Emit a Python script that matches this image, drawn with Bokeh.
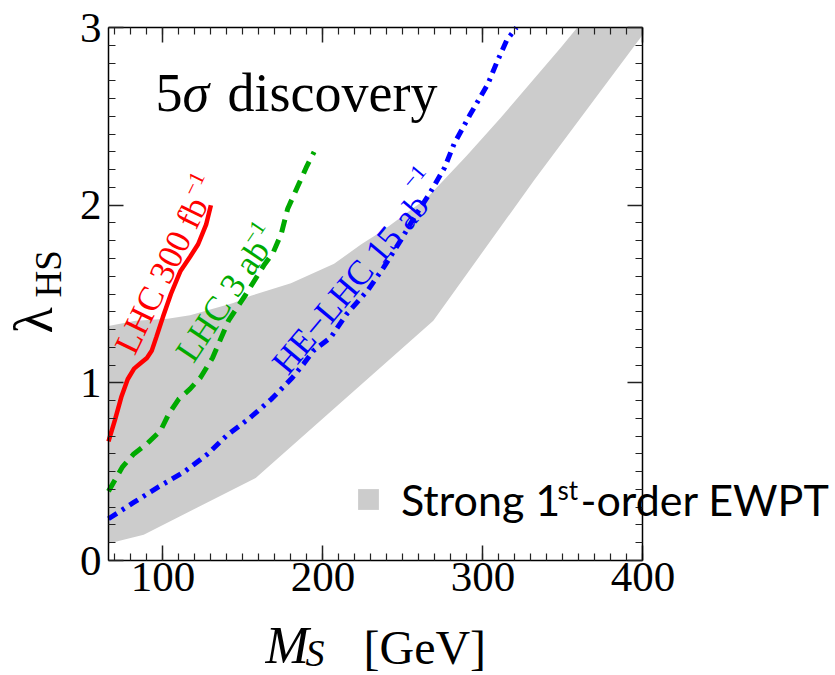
from bokeh.plotting import figure
from bokeh.models import Label, FixedTicker, LinearAxis, Range1d, Legend, LegendItem
from bokeh.embed import file_html
from bokeh.resources import INLINE

# ---- data ----
band_upper_x = [66, 83, 103, 117, 144, 155, 180, 207, 224, 238, 265, 290, 311, 330, 349, 359, 400]
band_upper_y = [1.32, 1.35, 1.36, 1.38, 1.45, 1.49, 1.56, 1.67, 1.78, 1.86, 2.04, 2.28, 2.49, 2.69, 2.89, 3.00, 3.00]
band_lower_x = [66, 88, 158, 269, 332, 400]
band_lower_y = [0.095, 0.145, 0.465, 1.35, 2.14, 2.96]

lhc300_x = [66, 70, 74, 78, 82, 86, 90, 93, 96, 100, 105, 111, 117, 122, 127, 130]
lhc300_y = [0.67, 0.79, 0.92, 1.02, 1.08, 1.11, 1.14, 1.18, 1.26, 1.37, 1.50, 1.63, 1.71, 1.78, 1.89, 2.00]

lhc3_x = [66, 74.6, 81.8, 90, 98.5, 103.7, 110, 117, 123.5, 131, 141, 152, 163, 169, 174, 178, 185, 190, 194.5]
lhc3_y = [0.39, 0.525, 0.60, 0.657, 0.73, 0.826, 0.91, 0.966, 1.03, 1.14, 1.35, 1.50, 1.66, 1.735, 1.84, 1.98, 2.12, 2.22, 2.30]

helhc_x = [66, 82, 97.5, 113, 128, 140, 154, 168, 181, 188, 194, 205, 215, 228, 238, 248.5, 257, 267, 276, 282, 292, 303, 309, 315, 321]
helhc_y = [0.235, 0.328, 0.416, 0.497, 0.60, 0.704, 0.80, 0.91, 1.03, 1.107, 1.18, 1.257, 1.389, 1.52, 1.65, 1.80, 1.93, 2.07, 2.21, 2.345, 2.51, 2.68, 2.81, 2.93, 3.0]

x_major = [100, 200, 300, 400]
y_major = [0, 1, 2, 3]
x_min, x_max = 66, 400
y_min, y_max = 0, 3

RED = "#ff0000"
GREEN = "#00aa00"
BLUE = "#0000ff"
BAND = "#cccccc"
SERIF = "Liberation Serif"

# ---- geometry: the frame fills the canvas; the plot box is drawn by fixed axes ----
W, H = 835, 675
BOX_L, BOX_T, BOX_B = 108, 27, 560          # plot-box edges in canvas pixels
PX_X = 1.6                                  # pixels per GeV
PX_Y = (BOX_B - BOX_T) / (y_max - y_min)    # pixels per unit of lambda
X0 = x_min - BOX_L / PX_X
Y0 = y_min - (H - BOX_B) / PX_Y

p = figure(frame_width=W, frame_height=H,
           x_range=Range1d(X0, X0 + W / PX_X), y_range=Range1d(Y0, Y0 + H / PX_Y),
           output_backend="svg", toolbar_location=None, title_location=None,
           min_border=0, background_fill_color="white", border_fill_color="white")
p.grid.visible = False
p.outline_line_color = None

poly_x = band_upper_x + band_lower_x[::-1]
poly_y = band_upper_y + band_lower_y[::-1]
band_r = p.patch(poly_x, poly_y, fill_color=BAND, line_color=None)

p.line(lhc300_x, lhc300_y, line_color=RED, line_width=4.5)
p.line(lhc3_x, lhc3_y, line_color=GREEN, line_width=5, line_dash="13 8")
p.line(helhc_x, helhc_y, line_color=BLUE, line_width=5, line_dash="10 6 3 6")

x_minor = [v for v in range(70, 401, 10)]
y_minor = [v / 10 for v in range(0, 31)]

p.xaxis[0].fixed_location = y_min
p.yaxis[0].fixed_location = x_min
p.add_layout(LinearAxis(fixed_location=y_max), "above")
p.add_layout(LinearAxis(fixed_location=x_max), "right")

for ax in p.xaxis:
    ax.ticker = FixedTicker(ticks=x_major, minor_ticks=x_minor)
    ax.bounds = (x_min, x_max)
for ax in p.yaxis:
    ax.ticker = FixedTicker(ticks=y_major, minor_ticks=y_minor)
    ax.bounds = (y_min, y_max)

for ax in p.xaxis + p.yaxis:
    ax.axis_line_color = "black"
    ax.axis_line_width = 1.5
    ax.major_tick_in = 15
    ax.major_tick_out = 0
    ax.minor_tick_in = 7
    ax.minor_tick_out = 0
    ax.major_tick_line_color = "#222222"
    ax.minor_tick_line_color = "#222222"
    ax.major_tick_line_width = 1.5
    ax.minor_tick_line_width = 1.2
    ax.major_label_text_font = SERIF
    ax.major_label_text_font_size = "43px"
    ax.major_label_text_color = "black"

p.below[0].major_label_standoff = 2
p.left[0].major_label_standoff = 7
p.above[0].major_label_overrides = {t: "" for t in x_major}
p.right[0].major_label_overrides = {t: "" for t in y_major}
p.above[0].major_label_standoff = 0
p.right[0].major_label_standoff = 0


def dx(px):
    return x_min + (px - BOX_L) / PX_X


def dy(py):
    return (BOX_B - py) / PX_Y


K = 0.36   # baseline -> middle offset, in em


def lab(px, py_base, text, size, color="black", angle=0, align="left",
        style="normal", font=SERIF, rotated=False):
    """place a text by its baseline position (canvas pixels)"""
    if rotated:       # 90 deg, baseline is a vertical line at px
        x, y = dx(px - K * size), dy(py_base)
    else:
        x, y = dx(px), dy(py_base - K * size)
    p.add_layout(Label(x=x, y=y, text=text, text_font=font,
                       text_font_size=f"{size}px", text_color=color,
                       angle=angle, angle_units="deg", text_align=align,
                       text_baseline="middle", text_font_style=style))


def clab(x, y, text, size, color, angle):
    p.add_layout(Label(x=x, y=y, text=text, text_font=SERIF,
                       text_font_size=f"{size}px", text_color=color,
                       angle=angle, angle_units="deg", text_align="center",
                       text_baseline="middle"))


# axis titles
lab(265, 664, "M", 52, style="italic")
lab(305, 666, "S", 38, style="italic")
lab(363, 664, "[GeV]", 48)
lab(53, 333, "λ", 54, angle=90, rotated=True)
lab(61, 297, "HS", 37, angle=90, rotated=True)

# panel title
lab(155, 112, "5", 54)
lab(182, 112, "σ", 54, style="italic")
lab(227, 112, "discovery", 54)

# curve labels
clab(99.1, 1.604, "LHC 300 fb", 35, RED, 64)
clab(119.4, 2.12, "−1", 22, RED, 64)
clab(137.3, 1.463, "LHC 3 ab", 35, GREEN, 56)
clab(157.0, 1.846, "−1", 22, GREEN, 56)
clab(217.2, 1.556, "HE−LHC 15 ab", 35, BLUE, 50)
clab(257.0, 2.16, "−1", 22, BLUE, 50)

# legend (location measured from the frame's bottom-left = canvas bottom-left)
legend = Legend(items=[LegendItem(label="Strong 1", renderers=[band_r])],
                location=(355, H - 499 - 30), glyph_width=26, glyph_height=26,
                padding=0, margin=0, border_line_color=None,
                background_fill_alpha=0, label_text_font="Lato",
                label_text_font_size="43px", label_standoff=20,
                label_height=60, label_text_color="black")
p.add_layout(legend, "center")
lab(557, 499, "st", 26, font="Lato")
lab(580, 514, "-order EWPT", 43, font="Lato")

open("out.html", "w").write(file_html(p, INLINE))
